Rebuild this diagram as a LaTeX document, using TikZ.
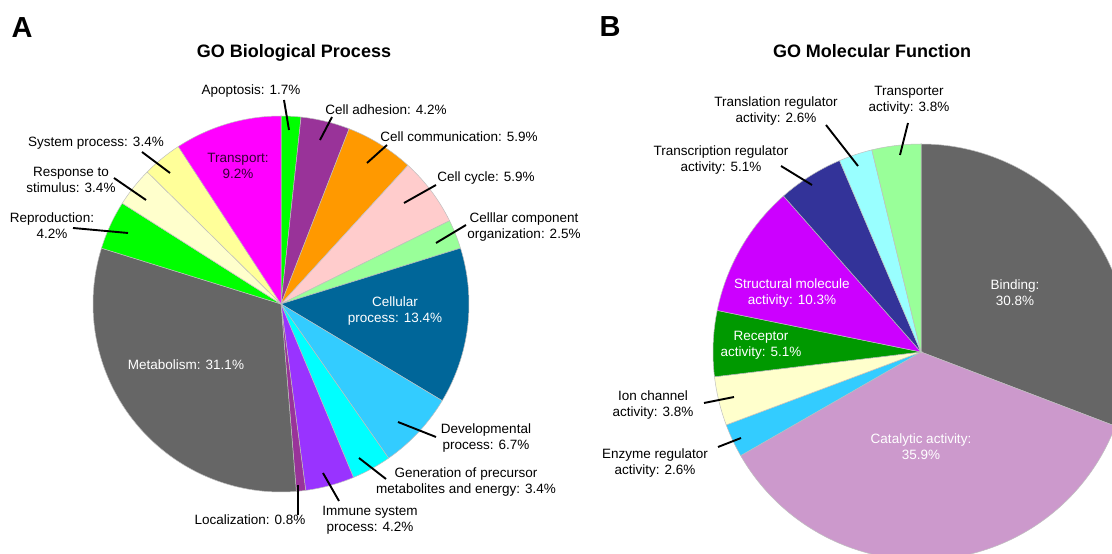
\documentclass[tikz,border=0pt]{standalone}
\usepackage{fontspec}
\setmainfont{Liberation Sans}
\definecolor{cgreen}{HTML}{00FF00}
\definecolor{cpurple}{HTML}{993399}
\definecolor{corange}{HTML}{FF9900}
\definecolor{cpink}{HTML}{FFCCCC}
\definecolor{clgreen}{HTML}{99FF99}
\definecolor{cdblue}{HTML}{006699}
\definecolor{csky}{HTML}{33CCFF}
\definecolor{ccyan}{HTML}{00FFFF}
\definecolor{cviolet}{HTML}{9933FF}
\definecolor{cgrey}{HTML}{666666}
\definecolor{clyellow}{HTML}{FFFFCC}
\definecolor{cyellow}{HTML}{FFFF99}
\definecolor{cmagenta}{HTML}{FF00FF}
\definecolor{clilac}{HTML}{CC99CC}
\definecolor{cdgreen}{HTML}{009900}
\definecolor{cstruct}{HTML}{CC00FF}
\definecolor{cnavy}{HTML}{333399}
\definecolor{clcyan}{HTML}{99FFFF}
\definecolor{ctratext}{HTML}{330033}
\begin{document}
\begin{tikzpicture}[x=1pt,y=1pt,
  lbl/.style={font=\fontsize{13.5}{16}\selectfont, align=center, inner sep=0pt},
  wlbl/.style={lbl, text=white},
  ttl/.style={font=\bfseries\fontsize{18}{22}\selectfont, inner sep=0pt},
  pnl/.style={font=\bfseries\fontsize{29}{34}\selectfont, inner sep=0pt},
  leader/.style={line width=1.9pt},
  wedge/.style={draw=gray!50, line width=0.5pt}]
\useasboundingbox (0,0) rectangle (1112,554);
\fill[white] (0,0) rectangle (1112,554);
\coordinate (cA) at (281,250);
\coordinate (cB) at (921,202);
\begin{scope}
\clip (0,0) rectangle (1112,554);
% Pie A
\foreach \s/\p/\c in {0/1.7/cgreen, 1.7/4.2/cpurple, 5.9/5.9/corange, 11.8/5.9/cpink,
  17.7/2.5/clgreen, 20.2/13.4/cdblue, 33.6/6.7/csky, 40.3/3.4/ccyan, 43.7/4.2/cviolet,
  47.9/0.8/cpurple, 48.7/31.1/cgrey, 79.8/4.2/cgreen, 84.0/3.4/clyellow, 87.4/3.4/cyellow,
  90.8/9.2/cmagenta}{
  \pgfmathsetmacro\a{90-3.6*\s}
  \pgfmathsetmacro\b{90-3.6*(\s+\p)}
  \filldraw[wedge, fill=\c] (cA) -- ++(\a:188) arc[start angle=\a, end angle=\b, radius=188] -- cycle;
}
% Pie B
\foreach \s/\p/\c in {0/30.8/cgrey, 30.8/35.9/clilac, 66.7/2.6/csky, 69.3/3.8/clyellow,
  73.1/5.1/cdgreen, 78.2/10.3/cstruct, 88.5/5.1/cnavy, 93.6/2.6/clcyan, 96.2/3.8/clgreen}{
  \pgfmathsetmacro\a{90-3.6*\s}
  \pgfmathsetmacro\b{90-3.6*(\s+\p)}
  \filldraw[wedge, fill=\c] (cB) -- ++(\a:208) arc[start angle=\a, end angle=\b, radius=208] -- cycle;
}
\end{scope}

% panel letters and titles
\node[pnl] (pA) at (22,526) {A};
\node[pnl] (pB) at (610,527) {B};
\node[ttl] (tA) at (294,501) {GO Biological Process};
\node[ttl] (tB) at (872,503) {GO Molecular Function};

% Labels A
\node[lbl] (lApo) at (251,463) {Apoptosis: 1.7\%};
\node[lbl] (lAdh) at (386,444) {Cell adhesion: 4.2\%};
\node[lbl] (lCom) at (459,417) {Cell communication: 5.9\%};
\node[lbl] (lCyc) at (486,376) {Cell cycle: 5.9\%};
\node[lbl] (lCco) at (524,326.5) {Celllar component\\organization: 2.5\%};
\node[wlbl] (lCel) at (395,242.5) {Cellular\\process: 13.4\%};
\node[lbl] (lDev) at (486,116) {Developmental\\process: 6.7\%};
\node[lbl] (lGen) at (466,71.5) {Generation of precursor\\metabolites and energy: 3.4\%};
\node[lbl] (lImm) at (370,34) {Immune system\\process: 4.2\%};
\node[lbl] (lLoc) at (250,34) {Localization: 0.8\%};
\node[wlbl] (lMet) at (186,189) {Metabolism: 31.1\%};
\node[lbl] (lRep) at (52,328.5) {Reproduction:\\4.2\%};
\node[lbl] (lRes) at (71,374.5) {Response to\\stimulus: 3.4\%};
\node[lbl] (lSys) at (96,411) {System process: 3.4\%};
\node[lbl, text=ctratext] (lTra) at (238,388.5) {Transport:\\9.2\%};

% Leaders A
\coordinate (aApo1) at (284,454); \coordinate (aApo2) at (289,424);
\coordinate (aAdh1) at (332,437); \coordinate (aAdh2) at (320,414);
\coordinate (aCom1) at (387,409); \coordinate (aCom2) at (367,391);
\coordinate (aCyc1) at (436,369); \coordinate (aCyc2) at (404,351);
\coordinate (aCco1) at (466,329); \coordinate (aCco2) at (436,311);
\coordinate (aDev1) at (436,117); \coordinate (aDev2) at (398,132);
\coordinate (aGen1) at (386,75);  \coordinate (aGen2) at (359,96);
\coordinate (aImm1) at (339,53);  \coordinate (aImm2) at (323,81);
\coordinate (aLoc1) at (298,39);  \coordinate (aLoc2) at (298,69);
\coordinate (aRep1) at (73,326);  \coordinate (aRep2) at (128,321);
\coordinate (aRes1) at (114,376); \coordinate (aRes2) at (146,354);
\coordinate (aSys1) at (142,402); \coordinate (aSys2) at (170,381);
\foreach \n in {Apo,Adh,Com,Cyc,Cco,Dev,Gen,Imm,Loc,Rep,Res,Sys}{
  \draw[leader] (a\n1) -- (a\n2);
}

% Labels B
\node[lbl] (lTrp) at (909,453.5) {Transporter\\activity: 3.8\%};
\node[lbl] (lTsl) at (776,443) {Translation regulator\\activity: 2.6\%};
\node[lbl] (lTsc) at (721,394) {Transcription regulator\\activity: 5.1\%};
\node[wlbl] (lStr) at (792,261) {Structural molecule\\activity: 10.3\%};
\node[wlbl] (lRec) at (761,208.5) {Receptor\\activity: 5.1\%};
\node[lbl] (lIon) at (653,149) {Ion channel\\activity: 3.8\%};
\node[lbl] (lEnz) at (655,91) {Enzyme regulator\\activity: 2.6\%};
\node[wlbl] (lBin) at (1015,261) {Binding:\\30.8\%};
\node[wlbl] (lCat) at (921,107) {Catalytic activity:\\35.9\%};

% Leaders B
\coordinate (bTrp1) at (908,431); \coordinate (bTrp2) at (900,399);
\coordinate (bTsl1) at (826,429); \coordinate (bTsl2) at (858,388);
\coordinate (bTsc1) at (781,388); \coordinate (bTsc2) at (812,369);
\coordinate (bIon1) at (704,151); \coordinate (bIon2) at (734,157);
\coordinate (bEnz1) at (718,107); \coordinate (bEnz2) at (741,116);
\foreach \n in {Trp,Tsl,Tsc,Ion,Enz}{
  \draw[leader] (b\n1) -- (b\n2);
}
\end{tikzpicture}
\end{document}
